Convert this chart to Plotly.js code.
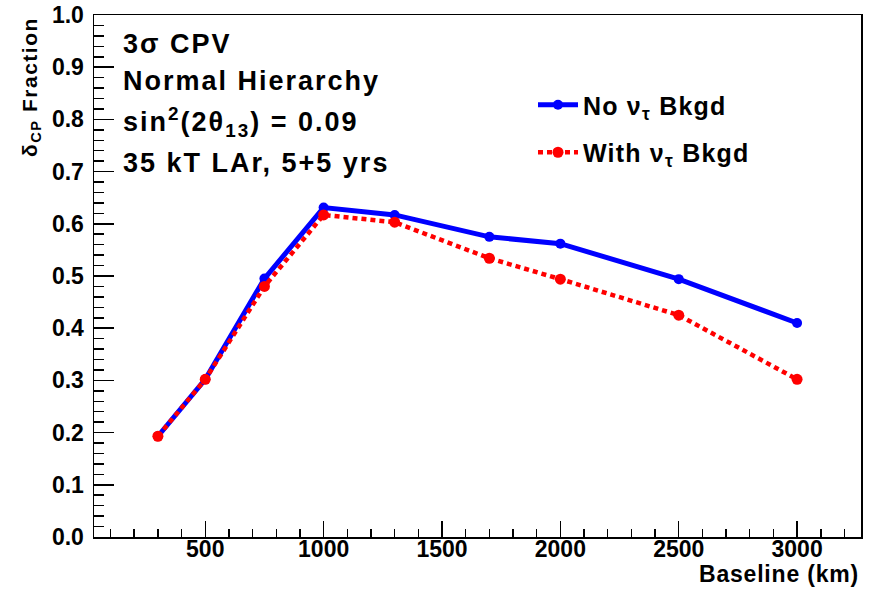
<!DOCTYPE html>
<html>
<head>
<meta charset="utf-8">
<script src="https://cdn.plot.ly/plotly-3.0.1.min.js"></script>
<style>html,body{margin:0;padding:0;background:#fff;}#chart{width:873px;height:590px;}</style>
</head>
<body>
<div id="chart"></div>
<script>
// Data
const baseline = [300, 500, 750, 1000, 1300, 1700, 2000, 2500, 3000];
const fracNoTau = [0.193, 0.302, 0.495, 0.631, 0.617, 0.575, 0.562, 0.494, 0.410];
const fracWithTau = [0.193, 0.302, 0.480, 0.617, 0.603, 0.534, 0.494, 0.425, 0.302];
const seriesNames = ['No ν<sub>τ</sub> Bkgd', 'With ν<sub>τ</sub> Bkgd'];
const infoLines = ['3σ CPV', 'Normal Hierarchy', 'sin<sup>2</sup>(2θ<sub>13</sub>) = 0.09', '35 kT LAr, 5+5 yrs'];
const xTitle = 'Baseline (km)';
const yTitle = 'δ<sub>CP</sub> Fraction';

const FONT = 'Liberation Sans, Arial, Helvetica, sans-serif';
const sp = (t, ls) => '<span style="letter-spacing:' + ls + 'px">' + t + '</span>';

const traces = [
  {
    x: baseline, y: fracNoTau, name: sp(seriesNames[0], 1.2), type: 'scatter', mode: 'lines+markers',
    line: {color: '#0000ff', width: 5}, marker: {color: '#0000ff', size: 10, symbol: 'circle'},
    legendgroup: 'a'
  },
  {
    x: baseline, y: fracWithTau, name: sp(seriesNames[1], 1.2), type: 'scatter', mode: 'lines+markers',
    line: {color: '#ff0000', width: 4.5, dash: '5px,4px'}, marker: {color: '#ff0000', size: 11, symbol: 'circle'},
    legendgroup: 'b'
  }
];

const linePix = [44, 81, 122, 163];
const annotations = infoLines.map((t, i) => ({
  text: sp(t, 2.0), xref: 'paper', yref: 'paper', x: (121 - 94) / 767, y: (537 - linePix[i]) / 522,
  xanchor: 'left', yanchor: 'middle', showarrow: false,
  font: {family: FONT, size: 27, color: '#000', weight: 700}
}));
annotations.push({
  text: sp(xTitle, 0.8), xref: 'paper', yref: 'paper', x: 1, y: (537 - 559) / 522,
  xanchor: 'right', yanchor: 'top', showarrow: false,
  font: {family: FONT, size: 23, color: '#000', weight: 700}
});
annotations.push({
  text: sp(yTitle, 1.5), xref: 'paper', yref: 'paper', x: (16 - 94) / 767, y: 1,
  xanchor: 'left', yanchor: 'top', showarrow: false, textangle: -90,
  font: {family: FONT, size: 21, color: '#000', weight: 700}
});

const layout = {
  width: 873, height: 590,
  margin: {l: 94, r: 12, t: 15, b: 53, pad: 0},
  paper_bgcolor: '#fff', plot_bgcolor: '#fff',
  font: {family: FONT, color: '#000'},
  showlegend: true,
  legend: {
    x: (533 - 94) / 767, y: (537 - 82) / 522, xanchor: 'left', yanchor: 'top',
    bgcolor: 'rgba(0,0,0,0)', borderwidth: 0,
    font: {family: FONT, size: 25, color: '#000', weight: 700},
    traceorder: 'grouped', tracegroupgap: 12, itemwidth: 40
  },
  xaxis: {
    range: [30, 3270], tick0: 0, dtick: 500, tickmode: 'linear',
    ticks: 'inside', ticklen: 16, tickwidth: 1.5, tickcolor: '#000',
    minor: {dtick: 100, tick0: 0, ticks: 'inside', ticklen: 8, tickwidth: 1.5, tickcolor: '#000'},
    showline: true, linecolor: '#000', linewidth: 1.5, mirror: true,
    showgrid: false, zeroline: false,
    tickfont: {family: FONT, size: 23, color: '#000', weight: 700},
    ticklabelstandoff: -9
  },
  yaxis: {
    range: [0, 1], tick0: 0, dtick: 0.1, tickmode: 'linear', tickformat: '.1f',
    ticks: 'inside', ticklen: 20, tickwidth: 1.5, tickcolor: '#000',
    minor: {dtick: 0.02, tick0: 0, ticks: 'inside', ticklen: 10, tickwidth: 1.5, tickcolor: '#000'},
    showline: true, linecolor: '#000', linewidth: 1.5, mirror: true,
    showgrid: false, zeroline: false,
    tickfont: {family: FONT, size: 23, color: '#000', weight: 700},
    ticklabelstandoff: 4
  },
  annotations: annotations
};

Plotly.newPlot('chart', traces, layout, {displayModeBar: false, staticPlot: true});
</script>
</body>
</html>
